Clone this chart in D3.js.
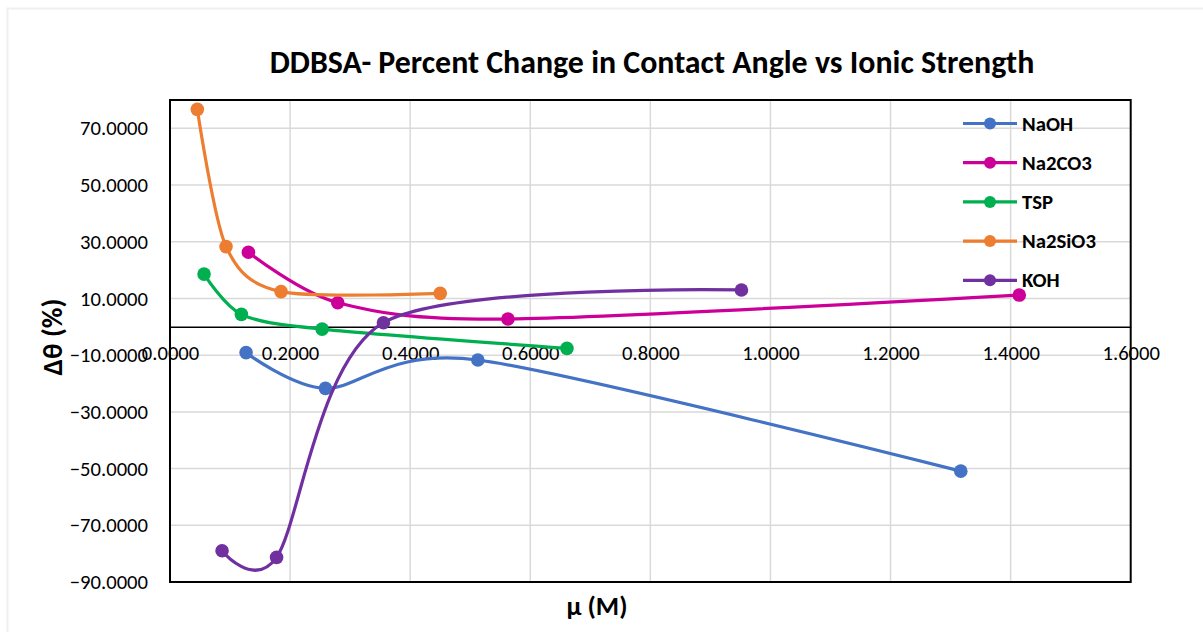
<!DOCTYPE html>
<html>
<head>
<meta charset="utf-8">
<script src="https://cdn.jsdelivr.net/npm/d3@7"></script>
<style>
body { margin: 0; background: #fff; }
text { font-family: Carlito, Calibri, Lato, sans-serif; }
</style>
</head>
<body>
<div id="chart"></div>
<script>
// values
var seriesNames = ["NaOH", "Na2CO3", "TSP", "Na2SiO3", "KOH"];
var seriesColors = ["#4472C4", "#CC0099", "#00B050", "#ED7D31", "#7030A0"];

var naohX = [0.1267, 0.2589, 0.5127, 1.3170];
var naohY = [-9.1, -21.7, -11.7, -50.9];

var na2co3X = [0.1306, 0.2794, 0.5628, 1.4144];
var na2co3Y = [26.3, 8.5, 2.75, 11.2];

var tspX = [0.0567, 0.1189, 0.2533, 0.6611];
var tspY = [18.6, 4.4, -0.8, -7.6];

var na2sio3X = [0.0455, 0.0933, 0.1850, 0.4500];
var na2sio3Y = [76.7, 28.3, 12.4, 11.8];

var kohX = [0.0867, 0.1775, 0.3555, 0.9517];
var kohY = [-79.0, -81.3, 1.45, 13.0];

var xTicks = [0, 0.2, 0.4, 0.6, 0.8, 1.0, 1.2, 1.4, 1.6];
var yTicks = [-90, -70, -50, -30, -10, 10, 30, 50, 70];

var seriesX = [naohX, na2co3X, tspX, na2sio3X, kohX];
var seriesY = [naohY, na2co3Y, tspY, na2sio3Y, kohY];

var w = 1203, h = 632;
var plotLeft = 170, plotRight = 1130.7, plotTop = 100, plotBottom = 582;

var svg = d3.select("#chart").append("svg")
	.attr("width", w)
	.attr("height", h);

// pick a font size so that a sample string gets the width seen in the reference
function fitSize(sample, weight, targetWidth) {
	var t = svg.append("text")
		.style("font-size", "20px")
		.style("font-weight", weight)
		.text(sample);
	var len = t.node().getComputedTextLength();
	t.remove();
	return 20 * targetWidth / len;
}

var tickSize = fitSize("70.0000", "normal", 68);
var legendSize = fitSize("Na2SiO3", "bold", 74);
var titleSize = fitSize("DDBSA- Percent Change in Contact Angle vs Ionic Strength", "bold", 765);
var yTitleSize = fitSize("Δθ (%)", "bold", 77);
var xTitleSize = fitSize("μ (M)", "bold", 61);

// chart area border
svg.append("rect")
	.attr("x", 7.5).attr("y", 8.5)
	.attr("width", 1200).attr("height", 640)
	.attr("fill", "#fff")
	.attr("stroke", "#EFEFEF")
	.attr("stroke-width", 2);

var xScale = d3.scaleLinear().domain([0, 1.6]).range([plotLeft, plotRight]);
var yScale = d3.scaleLinear().domain([-90, 80]).range([plotBottom, plotTop]);

// gridlines
svg.append("g").selectAll("line").data(xTicks.slice(1, -1)).enter().append("line")
	.attr("x1", function (d) {return xScale(d);})
	.attr("x2", function (d) {return xScale(d);})
	.attr("y1", plotTop).attr("y2", plotBottom)
	.attr("stroke", "#D9D9D9").attr("stroke-width", 1.5);

svg.append("g").selectAll("line").data(yTicks).enter().append("line")
	.attr("x1", plotLeft).attr("x2", plotRight)
	.attr("y1", function (d) {return yScale(d);})
	.attr("y2", function (d) {return yScale(d);})
	.attr("stroke", "#D9D9D9").attr("stroke-width", 1.5);

// plot border
svg.append("rect")
	.attr("x", plotLeft).attr("y", plotTop)
	.attr("width", plotRight - plotLeft).attr("height", plotBottom - plotTop)
	.attr("fill", "none")
	.attr("stroke", "#000")
	.attr("stroke-width", 2);

// y axis labels
var yAxis = d3.axisLeft(yScale)
	.tickValues(yTicks)
	.tickFormat(d3.format(".4f"))
	.tickSize(0)
	.tickPadding(22);

var gy = svg.append("g")
	.attr("transform", "translate(" + plotLeft + ",0)")
	.call(yAxis);
gy.select(".domain").remove();
gy.selectAll("text").style("font-size", tickSize + "px").attr("fill", "#000");

// x axis sits on y = 0
var xAxis = d3.axisBottom(xScale)
	.tickValues(xTicks)
	.tickFormat(d3.format(".4f"))
	.tickSize(0)
	.tickPadding(19);

var gx = svg.append("g")
	.attr("transform", "translate(0," + yScale(0) + ")")
	.call(xAxis);
gx.select(".domain").attr("stroke", "#000").attr("stroke-width", 1.5);
gx.selectAll("text").style("font-size", tickSize + "px").attr("fill", "#000");

// series, smoothed like the spreadsheet lines
var line = d3.line()
	.x(function (d) {return xScale(d[0]);})
	.y(function (d) {return yScale(d[1]);})
	.curve(d3.curveCardinal.tension(0.15));

seriesNames.forEach(function (name, i) {
	var pts = seriesX[i].map(function (x, j) {return [x, seriesY[i][j]];});
	svg.append("path")
		.datum(pts)
		.attr("d", line)
		.attr("fill", "none")
		.attr("stroke", seriesColors[i])
		.attr("stroke-width", 3.2);
	svg.append("g").selectAll("circle").data(pts).enter().append("circle")
		.attr("cx", function (d) {return xScale(d[0]);})
		.attr("cy", function (d) {return yScale(d[1]);})
		.attr("r", 6.8)
		.attr("fill", seriesColors[i]);
});

// legend
var legend = svg.append("g").attr("transform", "translate(963,123.5)");
seriesNames.forEach(function (name, i) {
	var g = legend.append("g").attr("transform", "translate(0," + i * 39.2 + ")");
	g.append("line")
		.attr("x1", 0).attr("x2", 54)
		.attr("stroke", seriesColors[i]).attr("stroke-width", 3.2);
	g.append("circle").attr("cx", 27).attr("r", 6).attr("fill", seriesColors[i]);
	g.append("text")
		.attr("x", 59).attr("y", 7)
		.style("font-size", legendSize + "px")
		.style("font-weight", "bold")
		.text(name);
});

// title
svg.append("text")
	.attr("x", 652).attr("y", 73)
	.attr("text-anchor", "middle")
	.style("font-size", titleSize + "px")
	.style("font-weight", "bold")
	.text("DDBSA- Percent Change in Contact Angle vs Ionic Strength");

// axis titles
svg.append("text")
	.attr("transform", "translate(62,337) rotate(-90)")
	.attr("text-anchor", "middle")
	.style("font-size", yTitleSize + "px")
	.style("font-weight", "bold")
	.text("Δθ (%)");

svg.append("text")
	.attr("x", 597).attr("y", 615)
	.attr("text-anchor", "middle")
	.style("font-size", xTitleSize + "px")
	.style("font-weight", "bold")
	.text("μ (M)");
</script>
</body>
</html>
